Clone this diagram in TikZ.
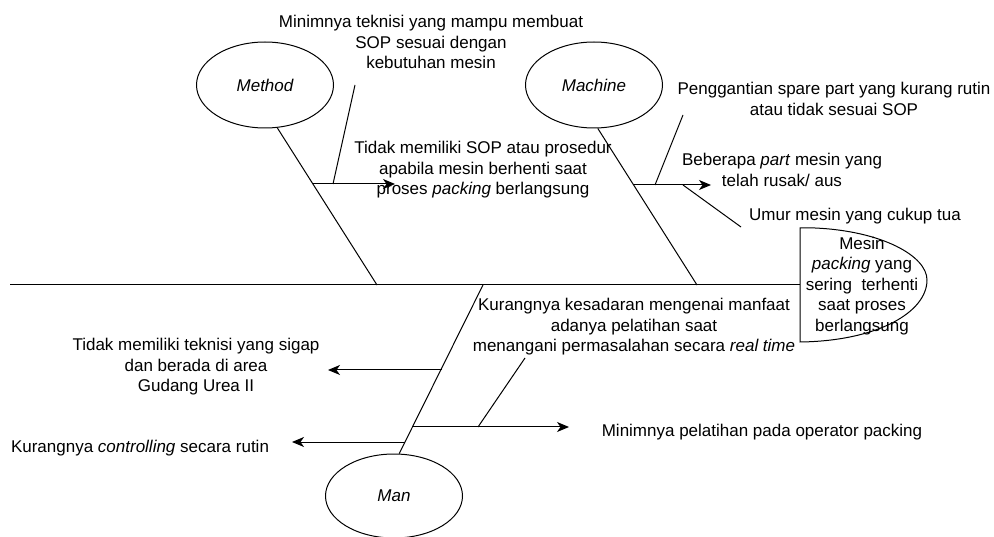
\documentclass[tikz,border=0pt]{standalone}
\usepackage{fontspec}
\setmainfont{Liberation Sans}
\usetikzlibrary{shapes.geometric,arrows.meta}

\begin{document}
\begin{tikzpicture}[x=1pt,y=-1pt,
        font=\fontsize{17}{20.5}\selectfont,
        garis/.style={line width=1pt},
        panah/.style={line width=1pt,-{Stealth[length=12pt,width=10pt,inset=3.5pt]}},
        kategori/.style={draw,line width=1pt,ellipse,minimum width=137pt,minimum height=86pt,inner sep=0pt,font=\fontsize{17}{20.5}\selectfont\itshape},
        teks/.style={align=center,inner sep=0pt}]
        \useasboundingbox (0,0) rectangle (994,537);
        % Kategori
        \node[kategori] (method) at (265,85) {Method};
        \node[kategori] (machine) at (594,85) {Machine};
        \node[kategori,minimum height=84pt] (man) at (394,496) {Man};
        % Tulang utama dan kepala
        \coordinate (ekor) at (10,285);
        \coordinate (kepala) at (800,285);
        \draw[garis] (ekor) -- (kepala);
        \draw[garis] (800,228) -- (815,228) .. controls (882,231) and (927,256) .. (927,280)
            .. controls (927,312) and (878,341) .. (800,342) -- cycle;
        \node[teks] (akibat) at (862,286) {Mesin\\\textit{packing} yang\\sering\ \ terhenti\\saat proses\\berlangsung};
        % Tulang kategori
        \coordinate (tulangMethod) at (377,285);
        \coordinate (tulangMachine) at (697,285);
        \coordinate (tulangMan) at (483,285);
        \draw[garis] (method.-74) -- (tulangMethod);
        \draw[garis] (machine.-85) -- (tulangMachine);
        \draw[garis] (man.83) -- (tulangMan);
        % Cabang Method
        \coordinate (cabangA) at (313,184);
        \coordinate (ujungA) at (395,184);
        \coordinate (rantingA) at (355,85);
        \coordinate (pangkalA) at (333,184);
        \draw[panah] (cabangA) -- (ujungA);
        \draw[garis] (rantingA) -- (pangkalA);
        % Cabang Machine
        \coordinate (cabangB) at (634,185);
        \coordinate (ujungB) at (711,185);
        \coordinate (rantingB) at (683,115);
        \coordinate (pangkalB) at (655,185);
        \coordinate (rantingC) at (741,227);
        \coordinate (pangkalC) at (683,185);
        \draw[panah] (cabangB) -- (ujungB);
        \draw[garis] (rantingB) -- (pangkalB);
        \draw[garis] (pangkalC) -- (rantingC);
        % Cabang Man
        \coordinate (cabangC) at (442,370);
        \coordinate (ujungC) at (328,370);
        \coordinate (cabangD) at (405,442);
        \coordinate (ujungD) at (292,442);
        \coordinate (cabangE) at (413,427);
        \coordinate (ujungE) at (569,427);
        \coordinate (rantingE) at (525,358);
        \coordinate (pangkalE) at (478,427);
        \draw[panah] (cabangC) -- (ujungC);
        \draw[panah] (cabangD) -- (ujungD);
        \draw[panah] (cabangE) -- (ujungE);
        \draw[garis] (rantingE) -- (pangkalE);
        % Penyebab
        \node[teks] (sebabA) at (431,42) {Minimnya teknisi yang mampu membuat\\SOP sesuai dengan\\kebutuhan mesin};
        \node[teks] (sebabB) at (483,170) {Tidak memiliki SOP atau prosedur\\apabila mesin berhenti saat\\proses \textit{packing} berlangsung};
        \node[teks] (sebabC) at (834,99) {Penggantian spare part yang kurang rutin\\atau tidak sesuai SOP};
        \node[teks] (sebabD) at (782,170) {Beberapa \textit{part} mesin yang\\telah rusak/ aus};
        \node[teks] (sebabE) at (855,216) {Umur mesin yang cukup tua};
        \node[teks] (sebabF) at (634,327) {Kurangnya kesadaran mengenai manfaat\\adanya pelatihan saat\\menangani permasalahan secara \textit{real time}};
        \node[teks] (sebabG) at (196,367) {Tidak memiliki teknisi yang sigap\\dan berada di area\\Gudang Urea II};
        \node[teks] (sebabH) at (140,448) {Kurangnya \textit{controlling} secara rutin};
        \node[teks] (sebabI) at (762,432) {Minimnya pelatihan pada operator packing};
    \end{tikzpicture}
\end{document}
